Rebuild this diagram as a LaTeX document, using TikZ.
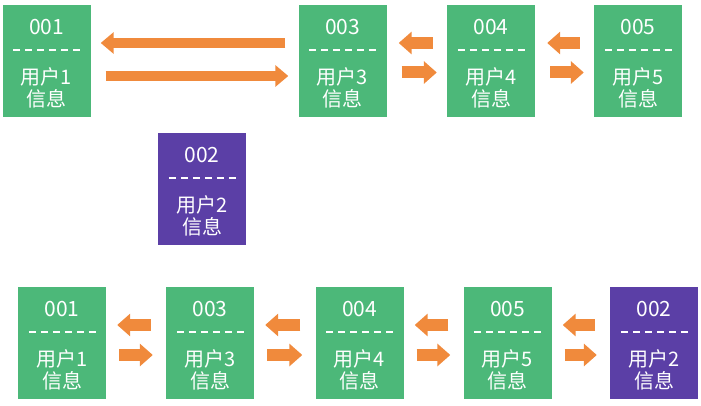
\documentclass[tikz,border=0pt]{standalone}
\usepackage{fontspec}
\newfontfamily\cjk{Noto Sans CJK SC}
\usetikzlibrary{arrows.meta}
\definecolor{gbox}{HTML}{4CB879}
\definecolor{pbox}{HTML}{5B3FA6}
\definecolor{oarr}{HTML}{F08A3C}
\tikzset{
  ubox/.style={minimum width=88pt,minimum height=112pt,inner sep=0pt,draw=none},
  idtext/.style={text=white,font=\cjk\fontsize{21}{21}\selectfont,inner sep=0pt},
  lbltext/.style={text=white,font=\cjk\fontsize{20}{20}\selectfont,inner sep=0pt},
  sepline/.style={white,line width=1.8pt,dash pattern=on 7pt off 5pt},
  oarrow/.style={oarr,line width=10pt,-{Triangle[width=21pt,length=13pt]}},
  sarrow/.style={oarr,line width=12pt,-{Triangle[width=22pt,length=13pt]}}
}
\newcommand\ubox[6]{%
  \node[ubox,fill=#4] (#1) at (#2,#3) {};
  \node[idtext] (#1id) at ([yshift=-22pt]#1.north) {#5};
  \draw[sepline] ([xshift=11pt,yshift=-45pt]#1.north west) -- ([xshift=-9pt,yshift=-45pt]#1.north east);
  \node[lbltext] (#1u) at ([yshift=-72pt]#1.north) {用户#6};
  \node[lbltext] (#1x) at ([yshift=-94pt]#1.north) {信息};
}
\begin{document}
\begin{tikzpicture}[x=1pt,y=-1pt]
\useasboundingbox (0,0) rectangle (701,406);
% top row
\ubox{ta}{46.5}{61.5}{gbox}{001}{1}
\ubox{tc}{342.5}{61.5}{gbox}{003}{3}
\ubox{td}{491}{61.5}{gbox}{004}{4}
\ubox{te}{638}{61.5}{gbox}{005}{5}
% middle
\ubox{mb}{202}{189}{pbox}{002}{2}
% bottom row
\ubox{ba}{62}{343}{gbox}{001}{1}
\ubox{bc}{210}{343}{gbox}{003}{3}
\ubox{bd}{359.5}{343}{gbox}{004}{4}
\ubox{be}{507.5}{343}{gbox}{005}{5}
\ubox{bb}{654}{343}{pbox}{002}{2}
% top arrows
\draw[oarrow,shorten <=13pt,shorten >=10pt] ([yshift=18.5pt]tc.west) -- ([yshift=18.5pt]ta.east);
\draw[oarrow,shorten <=15pt,shorten >=10pt] ([yshift=-14.5pt]ta.east) -- ([yshift=-14.5pt]tc.west);
\foreach \a/\b in {tc/td,td/te}{
  \draw[sarrow,shorten <=14pt,shorten >=12pt] ([yshift=18.5pt]\b.west) -- ([yshift=18.5pt]\a.east);
  \draw[sarrow,shorten <=15pt,shorten >=10pt] ([yshift=-11pt]\a.east) -- ([yshift=-11pt]\b.west);
}
% bottom arrows
\foreach \a/\b in {ba/bc,bc/bd,bd/be,be/bb}{
  \draw[sarrow,shorten <=15pt,shorten >=11pt] ([yshift=18pt]\b.west) -- ([yshift=18pt]\a.east);
  \draw[sarrow,shorten <=13pt,shorten >=13pt] ([yshift=-12pt]\a.east) -- ([yshift=-12pt]\b.west);
}
\end{tikzpicture}
\end{document}
